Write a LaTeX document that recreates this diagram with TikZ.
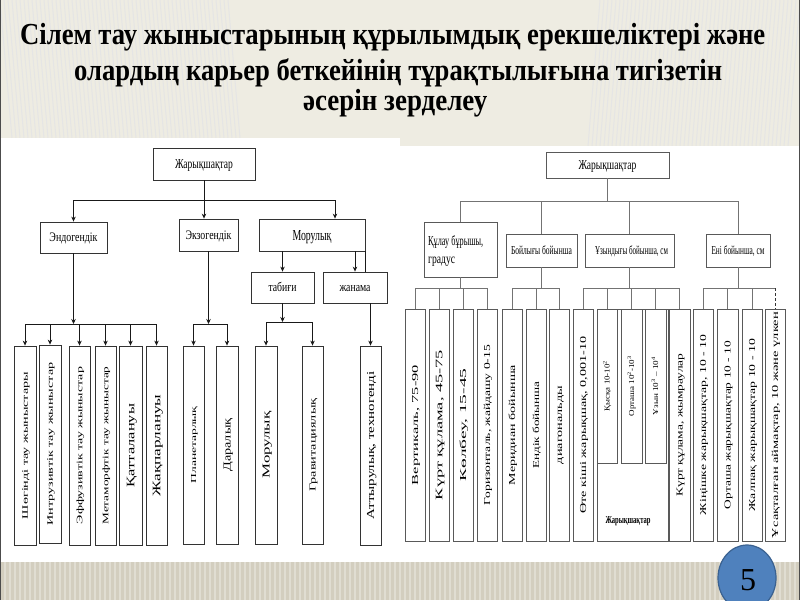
\documentclass[tikz,border=0pt]{standalone}
\usepackage{fontspec}
\setmainfont{Liberation Serif}
\usetikzlibrary{arrows.meta,shapes.geometric}
\newcommand\fitwh[3]{\resizebox{#1pt}{#2pt}{\vphantom{Б}\smash{#3}}}
\definecolor{bgtop}{HTML}{EEECE2}
\definecolor{bgbot}{HTML}{D3CEBF}
\definecolor{ovfill}{HTML}{4F81BD}
\definecolor{ovline}{HTML}{3A6190}
\begin{document}
\begin{tikzpicture}[x=1pt,y=-1pt,
  lbox/.style={draw=black!80, line width=0.8pt, fill=white, inner sep=0pt},
  rbox/.style={draw=black!65, line width=0.7pt, fill=white, inner sep=0pt},
  ln/.style={draw=black!90, line width=0.8pt},
  arr/.style={draw=black!90, line width=0.8pt, -{Stealth[length=5pt,width=4.5pt]}},
  rl/.style={draw=black!55, line width=0.8pt},
  vt/.style={label={[rotate=90,inner sep=0pt]center:#1}}]
\useasboundingbox (0,0) rectangle (800,600);
\clip (0,0) rectangle (800,600);
% background
\fill[bgtop] (0,0) rectangle (800,600);
\foreach \i in {0,4,...,230} \draw[black!10, line width=1pt] (\i,0) -- (\i+12,138);
\foreach \i in {600,604,...,800} \draw[black!10, line width=1pt] (\i,0) -- (\i-12,146);
\fill[white] (0,138) rectangle (400,562);
\fill[white] (400,146) rectangle (800,562);
\fill[bgbot] (0,562) rectangle (800,600);
\foreach \i in {0,5,...,800} \draw[bgbot!70!white, line width=1.2pt] (\i,562) -- (\i,600);
\draw[black!70, line width=1pt] (0.5,0) -- (0.5,600) (799.5,0) -- (799.5,600);
% title
\node[anchor=base west, inner sep=0pt] (t1) at (20,44) {\fitwh{745}{20}{\bfseries Сілем тау жыныстарының құрылымдық ерекшеліктері және}};
\node[anchor=base west, inner sep=0pt] (t2) at (74,80) {\fitwh{648}{20}{\bfseries олардың карьер беткейінің тұрақтылығына тигізетін}};
\node[anchor=base west, inner sep=0pt] (t3) at (303,110) {\fitwh{184}{20}{\bfseries әсерін зерделеу}};
% ---------------- left chart
\node[lbox, minimum width=102pt, minimum height=32pt] (L0) at (204,164) {\fitwh{58}{9}{Жарықшақтар}};
\node[lbox, minimum width=67pt, minimum height=31pt] (L1) at (73.5,237.5) {\fitwh{48}{8.5}{Эндогендік}};
\node[lbox, minimum width=59pt, minimum height=32pt] (L2) at (208.5,235) {\fitwh{46}{8.5}{Экзогендік}};
\node[lbox, minimum width=106pt, minimum height=32pt] (L3) at (312,235) {\fitwh{39}{10}{Морулық}};
\node[lbox, minimum width=63pt, minimum height=31pt] (L4) at (282.5,287.5) {\fitwh{28}{8.5}{табиғи}};
\node[lbox, minimum width=64pt, minimum height=31pt] (L5) at (355,287.5) {\fitwh{31}{8.5}{жанама}};
\node[lbox, minimum width=22pt, minimum height=199pt, vt={\fitwh{147}{5.5}{Шөгінді тау жыныстары}}] (B1) at (25,445.5) {};
\node[lbox, minimum width=22pt, minimum height=198pt, vt={\fitwh{163}{5.5}{Интрузивтік тау жыныстар}}] (B2) at (50,444) {};
\node[lbox, minimum width=21pt, minimum height=199pt, vt={\fitwh{157}{5.5}{Эффузивтік тау жыныстар}}] (B3) at (79.5,445.5) {};
\node[lbox, minimum width=21pt, minimum height=199pt, vt={\fitwh{158}{5.5}{Метаморфтік тау жыныстар}}] (B4) at (105.5,445.5) {};
\node[lbox, minimum width=23pt, minimum height=199pt, vt={\fitwh{83}{7.5}{Қатталануы}}] (B5) at (130.5,445.5) {};
\node[lbox, minimum width=21pt, minimum height=199pt, vt={\fitwh{102}{7.5}{Жақпарлануы}}] (B6) at (156.5,445.5) {};
\node[lbox, minimum width=21pt, minimum height=198pt, vt={\fitwh{77}{5}{Планетарлық}}] (B7) at (193.5,445) {};
\node[lbox, minimum width=22pt, minimum height=198pt, vt={\fitwh{53}{7}{Даралық}}] (B8) at (227,445) {};
\node[lbox, minimum width=22pt, minimum height=198pt, vt={\fitwh{67}{7}{Морулық}}] (B9) at (266,445) {};
\node[lbox, minimum width=21pt, minimum height=198pt, vt={\fitwh{93}{6}{Гравитациялық}}] (B10) at (312.5,445) {};
\node[lbox, minimum width=21pt, minimum height=199pt, vt={\fitwh{148}{7}{Аттырулық, техногенді}}] (B11) at (370.5,445.5) {};
% left connectors
\coordinate (lb) at (0,200);
\coordinate (mArr) at (335,200);
\draw[ln] (L0.south) -- (L0.south |- lb);
\draw[ln] (L1.north |- lb) -- (mArr);
\draw[arr] (L1.north |- lb) -- (L1.north);
\draw[arr] (L0.south |- lb) -- (L0.south |- L2.north);
\draw[arr] (mArr) -- (mArr |- L3.north);
\draw[arr] (L4.north |- L3.south) -- (L4.north);
\draw[arr] (L5.north |- L3.south) -- (L5.north);
\draw[ln] (L3.south east) -- (L3.south east |- L5.north);
\coordinate (eb) at (0,324);
\draw[arr] (L1.south) -- (L1.south |- eb);
\draw[ln] (B1.north |- eb) -- (B6.north |- eb);
\foreach \b in {B1,B2,B3,B4,B5,B6} \draw[arr] (\b.north |- eb) -- (\b.north);
\draw[arr] (L2.south) -- (L2.south |- eb);
\draw[ln] (B7.north |- eb) -- (B8.north |- eb);
\foreach \b in {B7,B8} \draw[arr] (\b.north |- eb) -- (\b.north);
\coordinate (tb) at (0,322);
\draw[arr] (L4.south) -- (L4.south |- tb);
\draw[ln] (B9.north |- tb) -- (B10.north |- tb);
\foreach \b in {B9,B10} \draw[arr] (\b.north |- tb) -- (\b.north);
\draw[arr] (B11.north |- L5.south) -- (B11.north);
% ---------------- right chart
\node[rbox, minimum width=123pt, minimum height=26pt] (R0) at (607.5,165) {\fitwh{58}{9}{Жарықшақтар}};
\node[rbox, minimum width=73pt, minimum height=55pt] (R1) at (460.5,249.5) {};
\node[anchor=north west, inner sep=0pt, align=left] (R1t) at (428,236) {\fitwh{55}{9}{Құлау бұрышы,}\\[6pt]\fitwh{27}{9}{градус}};
\node[rbox, minimum width=71pt, minimum height=33pt] (R2) at (541.5,250.5) {\fitwh{61}{8}{Бойлығы бойынша}};
\node[rbox, minimum width=89pt, minimum height=33pt] (R3) at (629.5,250.5) {\hspace*{4pt}\fitwh{73}{8}{Ұзындығы бойынша, см}};
\node[rbox, minimum width=64pt, minimum height=33pt] (R4) at (738,250.5) {\fitwh{53}{8}{Ені бойынша, см}};
\node[rbox, minimum width=20pt, minimum height=232pt, vt={\fitwh{120}{6}{Вертикаль, 75-90}}] (Ra) at (415,425) {};
\node[rbox, minimum width=20pt, minimum height=232pt, vt={\fitwh{150}{6.5}{Күрт құлама, 45-75}}] (Rb) at (439,425) {};
\node[rbox, minimum width=20pt, minimum height=232pt, vt={\fitwh{113}{6}{Көлбеу, 15-45}}] (Rc) at (463,425) {};
\node[rbox, minimum width=20pt, minimum height=232pt, vt={\fitwh{160}{6}{Горизонталь, жайдашу 0-15}}] (Rd) at (487,425) {};
\node[rbox, minimum width=20pt, minimum height=232pt, vt={\fitwh{120}{6}{Меридиан бойынша}}] (Re) at (512,425) {};
\node[rbox, minimum width=20pt, minimum height=232pt, vt={\fitwh{87}{6}{Ендік бойынша}}] (Rf) at (536,425) {};
\node[rbox, minimum width=20pt, minimum height=232pt, vt={\fitwh{78}{6}{диагональды}}] (Rg) at (559,425) {};
\node[rbox, minimum width=20pt, minimum height=232pt, vt={\fitwh{177}{6}{Өте кіші жарықшақ, 0,001-10}}] (Rh) at (583,425) {};
\node[rbox, minimum width=71pt, minimum height=232pt] (Rbig) at (632.5,425) {};
\node[inner sep=0pt] (Rbigt) at (628,520) {\fitwh{45}{7}{\bfseries Жарықшақтар}};
\node[rbox, minimum width=20pt, minimum height=154pt, vt={\fitwh{50}{5}{Қысқа 10-10\textsuperscript{2}}}] (Rq) at (607,386) {};
\node[rbox, minimum width=21pt, minimum height=154pt, vt={\fitwh{60}{5}{Орташа 10\textsuperscript{2}-10\textsuperscript{3}}}] (Ro) at (631.5,386) {};
\node[rbox, minimum width=21pt, minimum height=154pt, vt={\fitwh{58}{5}{Ұзын 10\textsuperscript{3} -- 10\textsuperscript{4}}}] (Ru) at (655.5,386) {};
\node[rbox, minimum width=21pt, minimum height=232pt, vt={\fitwh{143}{6}{Күрт құлама, жымраулар}}] (Rk) at (679.5,425) {};
\node[rbox, minimum width=20pt, minimum height=232pt, vt={\fitwh{180}{6}{Жіңішке жарықшақтар, 10 - 10}}] (Rj) at (703,425) {};
\node[rbox, minimum width=21pt, minimum height=232pt, vt={\fitwh{168}{6}{Орташа жарықшақтар 10 - 10}}] (Rm) at (727.5,425) {};
\node[rbox, minimum width=20pt, minimum height=232pt, vt={\fitwh{172}{6}{Жалпақ жарықшақтар 10 - 10}}] (Rp) at (752,425) {};
\node[rbox, minimum width=20pt, minimum height=232pt, vt={\fitwh{226}{6}{Ұсақталған аймақтар, 10 және үлкен}}] (Rs) at (775,425) {};
% right connectors
\coordinate (rb0) at (0,201);
\draw[rl] (R0.south) -- (R0.south |- rb0);
\draw[rl] (R1.north |- rb0) -- (R4.north |- rb0);
\foreach \r in {R1,R2,R3,R4} \draw[rl] (\r.north |- rb0) -- (\r.north);
\coordinate (rb1) at (0,288);
\draw[rl] (R1.south) -- (R1.south |- rb1);
\draw[rl] (Ra.north |- rb1) -- (Rd.north |- rb1);
\foreach \r in {Ra,Rb,Rc,Rd} \draw[rl] (\r.north |- rb1) -- (\r.north);
\draw[rl] (R2.south) -- (R2.south |- rb1);
\draw[rl] (Re.north |- rb1) -- (Rg.north |- rb1);
\foreach \r in {Re,Rf,Rg} \draw[rl] (\r.north |- rb1) -- (\r.north);
\draw[rl] (R3.south) -- (R3.south |- rb1);
\draw[rl] (Rh.north |- rb1) -- (Rk.north |- rb1);
\foreach \r in {Rh,Rq,Ro,Ru,Rk} \draw[rl] (\r.north |- rb1) -- (\r.north);
\draw[rl] (R4.south) -- (R4.south |- rb1);
\draw[rl] (Rj.north |- rb1) -- (Rs.north |- rb1);
\foreach \r in {Rj,Rm,Rp} \draw[rl] (\r.north |- rb1) -- (\r.north);
\draw[rl, densely dashed, draw=black!80] (Rs.north |- rb1) -- (Rs.north);
% page number
\node[ellipse, draw=ovline, fill=ovfill, line width=1.2pt, minimum width=58pt, minimum height=66pt, inner sep=0pt] (pg) at (747,578) {};
\node[inner sep=0pt] (pgt) at (748,580) {\fontsize{32}{32}\selectfont 5};
\end{tikzpicture}
\end{document}
